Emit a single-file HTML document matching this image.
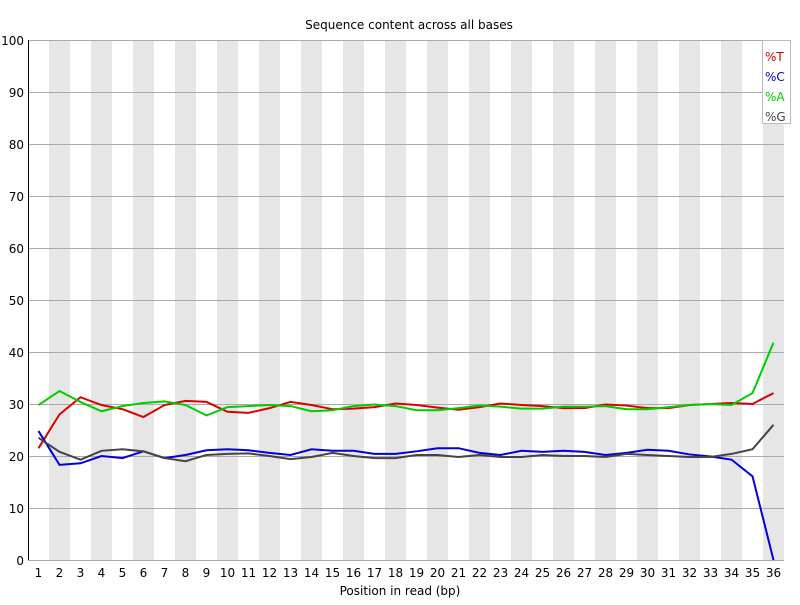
<!DOCTYPE html>
<html><head><meta charset="utf-8"><style>
body{margin:0;background:#fff}
svg text{font-family:"DejaVu Sans","Liberation Sans",sans-serif;font-size:12px;fill:#000}
</style></head><body>
<svg id="chart" width="800" height="600" xmlns="http://www.w3.org/2000/svg">
<g id="bands"></g>
<g id="grid"></g>
<g id="series"></g>
<line x1="28.5" y1="40" x2="28.5" y2="560" stroke="#000"/>
<g id="yt"></g>
<g id="xt"></g>
<text x="409" y="29" text-anchor="middle">Sequence content across all bases</text>
<text x="400" y="595" text-anchor="middle">Position in read (bp)</text>
<g>
<rect x="762.5" y="40.5" width="28" height="83" fill="#fff" stroke="#bbb"/>
<text x="765" y="61" style="fill:#cc0000">%T</text>
<text x="765" y="81" style="fill:#0000cc">%C</text>
<text x="765" y="101" style="fill:#00cc00">%A</text>
<text x="765" y="121" style="fill:#444">%G</text>
</g>
</svg>
<script>
const positions=[1,2,3,4,5,6,7,8,9,10,11,12,13,14,15,16,17,18,19,20,21,22,23,24,25,26,27,28,29,30,31,32,33,34,35,36];
const yTicks=[0,10,20,30,40,50,60,70,80,90,100];
const seriesT=[21.5,28,31.3,29.8,29,27.5,29.8,30.6,30.4,28.5,28.3,29.2,30.4,29.8,29,29.1,29.4,30.1,29.8,29.3,28.9,29.4,30.1,29.8,29.6,29.2,29.2,29.9,29.7,29.2,29.2,29.8,30,30.2,30,32.1];
const seriesC=[24.8,18.3,18.6,20,19.6,20.9,19.6,20.2,21.1,21.3,21.1,20.6,20.2,21.3,21,21,20.4,20.4,20.9,21.5,21.5,20.6,20.2,21,20.8,21,20.8,20.2,20.6,21.2,21,20.3,19.9,19.3,16.1,0];
const seriesA=[29.8,32.5,30.4,28.6,29.6,30.2,30.5,29.8,27.8,29.4,29.6,29.8,29.6,28.6,28.8,29.6,29.9,29.6,28.8,28.8,29.2,29.7,29.5,29.1,29.1,29.5,29.5,29.6,29,29,29.4,29.8,30,29.8,32.1,41.8];
const seriesG=[23.5,20.8,19.3,21,21.3,20.9,19.6,19,20.2,20.4,20.5,20,19.4,19.8,20.6,20,19.6,19.6,20.2,20.2,19.8,20.2,19.8,19.8,20.2,20,20,19.8,20.4,20.2,20,19.8,19.8,20.4,21.3,26];
const NS="http://www.w3.org/2000/svg";
const plotLeft=28,bw=21,plotTop=40,plotBottom=560;
const xs=i=>plotLeft+bw*(i+0.5);
const ys=v=>plotBottom-(v/100)*(plotBottom-plotTop);
function mk(t,a,p){const e=document.createElementNS(NS,t);for(const k in a)e.setAttribute(k,a[k]);p.appendChild(e);return e;}
const bands=document.getElementById('bands');
positions.forEach((p,i)=>{if(i%2===1){const r=mk('rect',{x:plotLeft+bw*i,y:plotTop,width:bw,height:plotBottom-plotTop,fill:'#e6e6e6'},bands);

}});
const grid=document.getElementById('grid'),yt=document.getElementById('yt');
yTicks.forEach(v=>{const y=Math.round(ys(v))+0.5;const l=mk('line',{x1:plotLeft,x2:plotLeft+bw*positions.length,y1:y,y2:y,stroke:'#aaa'},grid);


const t=mk('text',{x:24,y:ys(v)+5,'text-anchor':'end'},yt);t.textContent=v;

});
const xt=document.getElementById('xt');
positions.forEach((p,i)=>{const t=mk('text',{x:xs(i),y:577,'text-anchor':'middle'},xt);t.textContent=p;

});
const sg=document.getElementById('series');
[['t',seriesT,'#dd0000'],['c',seriesC,'#0000dd'],['a',seriesA,'#00cc00'],['g',seriesG,'#444444']].forEach(([n,d,c])=>{
const pl=mk('polyline',{points:d.map((v,i)=>xs(i)+','+ys(v)).join(' '),fill:'none',stroke:c,'stroke-width':2},sg);

});
</script>
</body></html>
